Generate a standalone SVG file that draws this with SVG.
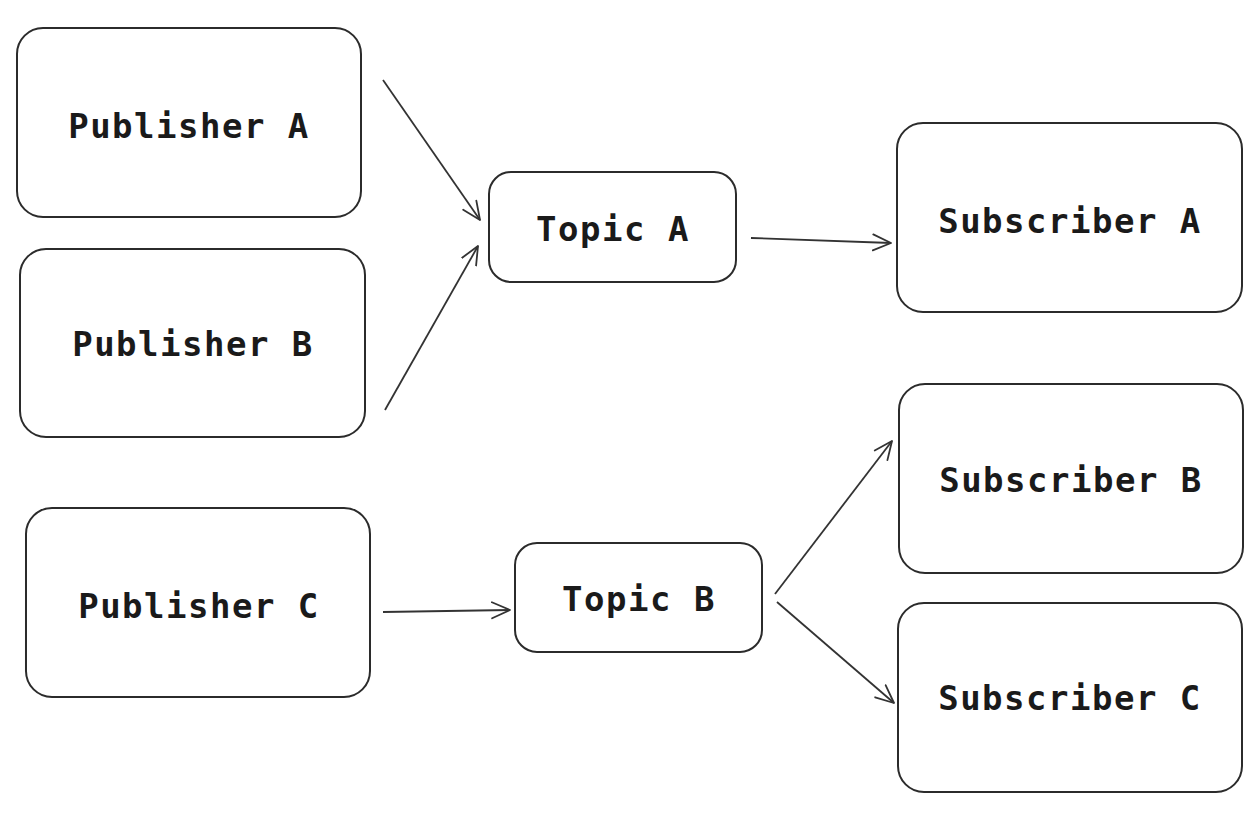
<svg xmlns="http://www.w3.org/2000/svg" width="1259" height="817" viewBox="0 0 1259 817">
<style>
.box{fill:#fff;stroke:#2b2b2b;stroke-width:2}
.lbl{font-family:"DejaVu Sans Mono","Liberation Mono",monospace;font-weight:bold;font-size:34px;fill:#1a1a1a;text-anchor:middle;dominant-baseline:central;letter-spacing:1.5px}
.edge{fill:none;stroke:#333;stroke-width:1.8}
</style>
<defs>
<marker id="ah" viewBox="0 0 20 20" refX="19" refY="10" markerWidth="20" markerHeight="20" markerUnits="userSpaceOnUse" orient="auto">
<path d="M1,2 L19,10 L1,18" fill="none" stroke="#333" stroke-width="1.8" stroke-linecap="round" stroke-linejoin="round"/>
</marker>
</defs>
<rect width="1259" height="817" fill="#fff"/>
<g id="publisher-a"><rect class="box" x="17" y="28" width="344" height="189" rx="26"/><text class="lbl" x="189" y="126">Publisher A</text></g>
<g id="publisher-b"><rect class="box" x="20" y="249" width="345" height="188" rx="26"/><text class="lbl" x="193" y="344">Publisher B</text></g>
<g id="publisher-c"><rect class="box" x="26" y="508" width="344" height="189" rx="26"/><text class="lbl" x="199" y="606">Publisher C</text></g>
<g id="topic-a"><rect class="box" x="489" y="172" width="247" height="110" rx="22"/><text class="lbl" x="613" y="229">Topic A</text></g>
<g id="topic-b"><rect class="box" x="515" y="543" width="247" height="109" rx="22"/><text class="lbl" x="639" y="599">Topic B</text></g>
<g id="subscriber-a"><rect class="box" x="897" y="123" width="345" height="189" rx="26"/><text class="lbl" x="1070" y="221">Subscriber A</text></g>
<g id="subscriber-b"><rect class="box" x="899" y="384" width="344" height="189" rx="26"/><text class="lbl" x="1071" y="480">Subscriber B</text></g>
<g id="subscriber-c"><rect class="box" x="898" y="603" width="344" height="189" rx="26"/><text class="lbl" x="1070" y="698">Subscriber C</text></g>
<g id="connectors">
<line class="edge" x1="383" y1="80" x2="480" y2="220" marker-end="url(#ah)"/>
<line class="edge" x1="385" y1="410" x2="478" y2="246" marker-end="url(#ah)"/>
<line class="edge" x1="751" y1="238" x2="891" y2="243" marker-end="url(#ah)"/>
<line class="edge" x1="383" y1="612" x2="510" y2="610" marker-end="url(#ah)"/>
<line class="edge" x1="775" y1="594" x2="892" y2="441" marker-end="url(#ah)"/>
<line class="edge" x1="777" y1="602" x2="894" y2="703" marker-end="url(#ah)"/>
</g>
</svg>
